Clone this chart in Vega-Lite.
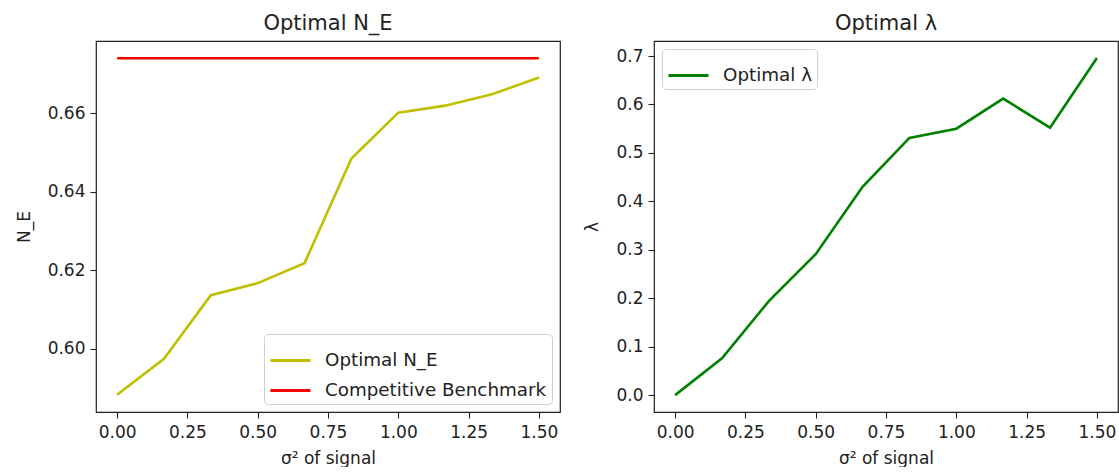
{
  "$schema": "https://vega.github.io/schema/vega-lite/v6.json",
  "padding": {"left": 14, "top": 12, "right": 2, "bottom": 0},
  "background": "white",
  "datasets": {
    "ne": [
      {"sigma2": 0.0, "value": 0.5882, "series": "Optimal N_E"},
      {"sigma2": 0.1667, "value": 0.5974, "series": "Optimal N_E"},
      {"sigma2": 0.3333, "value": 0.6136, "series": "Optimal N_E"},
      {"sigma2": 0.5, "value": 0.6167, "series": "Optimal N_E"},
      {"sigma2": 0.6667, "value": 0.6218, "series": "Optimal N_E"},
      {"sigma2": 0.8333, "value": 0.6485, "series": "Optimal N_E"},
      {"sigma2": 1.0, "value": 0.6602, "series": "Optimal N_E"},
      {"sigma2": 1.1667, "value": 0.6620, "series": "Optimal N_E"},
      {"sigma2": 1.3333, "value": 0.6649, "series": "Optimal N_E"},
      {"sigma2": 1.5, "value": 0.6692, "series": "Optimal N_E"},
      {"sigma2": 0.0, "value": 0.6741, "series": "Competitive Benchmark"},
      {"sigma2": 0.1667, "value": 0.6741, "series": "Competitive Benchmark"},
      {"sigma2": 0.3333, "value": 0.6741, "series": "Competitive Benchmark"},
      {"sigma2": 0.5, "value": 0.6741, "series": "Competitive Benchmark"},
      {"sigma2": 0.6667, "value": 0.6741, "series": "Competitive Benchmark"},
      {"sigma2": 0.8333, "value": 0.6741, "series": "Competitive Benchmark"},
      {"sigma2": 1.0, "value": 0.6741, "series": "Competitive Benchmark"},
      {"sigma2": 1.1667, "value": 0.6741, "series": "Competitive Benchmark"},
      {"sigma2": 1.3333, "value": 0.6741, "series": "Competitive Benchmark"},
      {"sigma2": 1.5, "value": 0.6741, "series": "Competitive Benchmark"}
    ],
    "lam": [
      {"sigma2": 0.0, "value": 0.0, "series": "Optimal λ"},
      {"sigma2": 0.1667, "value": 0.076, "series": "Optimal λ"},
      {"sigma2": 0.3333, "value": 0.194, "series": "Optimal λ"},
      {"sigma2": 0.5, "value": 0.291, "series": "Optimal λ"},
      {"sigma2": 0.6667, "value": 0.43, "series": "Optimal λ"},
      {"sigma2": 0.8333, "value": 0.531, "series": "Optimal λ"},
      {"sigma2": 1.0, "value": 0.55, "series": "Optimal λ"},
      {"sigma2": 1.1667, "value": 0.612, "series": "Optimal λ"},
      {"sigma2": 1.3333, "value": 0.552, "series": "Optimal λ"},
      {"sigma2": 1.5, "value": 0.696, "series": "Optimal λ"}
    ]
  },
  "config": {
    "font": "DejaVu Sans",
    "view": {"stroke": "#222222", "strokeWidth": 1.2},
    "axis": {
      "domain": false,
      "grid": false,
      "ticks": true,
      "tickColor": "#222222",
      "tickSize": 6,
      "tickWidth": 1.1,
      "labelFont": "DejaVu Sans",
      "labelFontSize": 17,
      "labelColor": "#222222",
      "labelPadding": 5,
      "titleFont": "DejaVu Sans",
      "titleFontSize": 17,
      "titleFontWeight": "normal",
      "titleColor": "#222222"
    },
    "axisX": {"labelPadding": 6, "titlePadding": 10},
    "axisY": {"titlePadding": 14},
    "title": {"font": "DejaVu Sans", "fontSize": 21, "fontWeight": "normal", "color": "#222222", "offset": 7},
    "legend": {
      "labelFont": "DejaVu Sans",
      "labelFontSize": 18.3,
      "labelColor": "#222222",
      "labelLimit": 400,
      "strokeColor": "#d0d0d0",
      "fillColor": "white",
      "cornerRadius": 4,
      "padding": 5,
      "symbolType": "stroke",
      "symbolStrokeWidth": 3,
      "symbolSize": 1600,
      "labelOffset": 13,
      "rowPadding": 0,
      "offset": 8
    }
  },
  "hconcat": [
    {
      "title": "Optimal N_E",
      "width": 464,
      "height": 371,
      "data": {"name": "ne"},
      "mark": {"type": "line", "strokeWidth": 2.6},
      "encoding": {
        "x": {
          "field": "sigma2", "type": "quantitative",
          "scale": {"domain": [-0.075, 1.575], "nice": false, "zero": false},
          "axis": {"title": "σ² of signal", "values": [0, 0.25, 0.5, 0.75, 1.0, 1.25, 1.5], "format": ".2f"}
        },
        "y": {
          "field": "value", "type": "quantitative",
          "scale": {"domain": [0.5838, 0.6785], "nice": false, "zero": false},
          "axis": {"title": "N_E", "values": [0.60, 0.62, 0.64, 0.66], "format": ".2f"}
        },
        "color": {
          "field": "series", "type": "nominal",
          "scale": {"domain": ["Optimal N_E", "Competitive Benchmark"], "range": ["#bfbf00", "#ff0000"]},
          "legend": {"title": null, "orient": "bottom-right"}
        }
      }
    },
    {
      "title": "Optimal λ",
      "width": 464,
      "height": 371,
      "data": {"name": "lam"},
      "mark": {"type": "line", "strokeWidth": 2.6},
      "encoding": {
        "x": {
          "field": "sigma2", "type": "quantitative",
          "scale": {"domain": [-0.075, 1.575], "nice": false, "zero": false},
          "axis": {"title": "σ² of signal", "values": [0, 0.25, 0.5, 0.75, 1.0, 1.25, 1.5], "format": ".2f"}
        },
        "y": {
          "field": "value", "type": "quantitative",
          "scale": {"domain": [-0.0348, 0.731], "nice": false, "zero": false},
          "axis": {"title": "λ", "values": [0, 0.1, 0.2, 0.3, 0.4, 0.5, 0.6, 0.7], "format": ".1f"}
        },
        "color": {
          "field": "series", "type": "nominal",
          "scale": {"domain": ["Optimal λ"], "range": ["#008000"]},
          "legend": {"title": null, "orient": "top-left"}
        }
      }
    }
  ],
  "resolve": {"scale": {"color": "independent", "x": "independent", "y": "independent"}, "legend": {"color": "independent"}},
  "spacing": 22
}
